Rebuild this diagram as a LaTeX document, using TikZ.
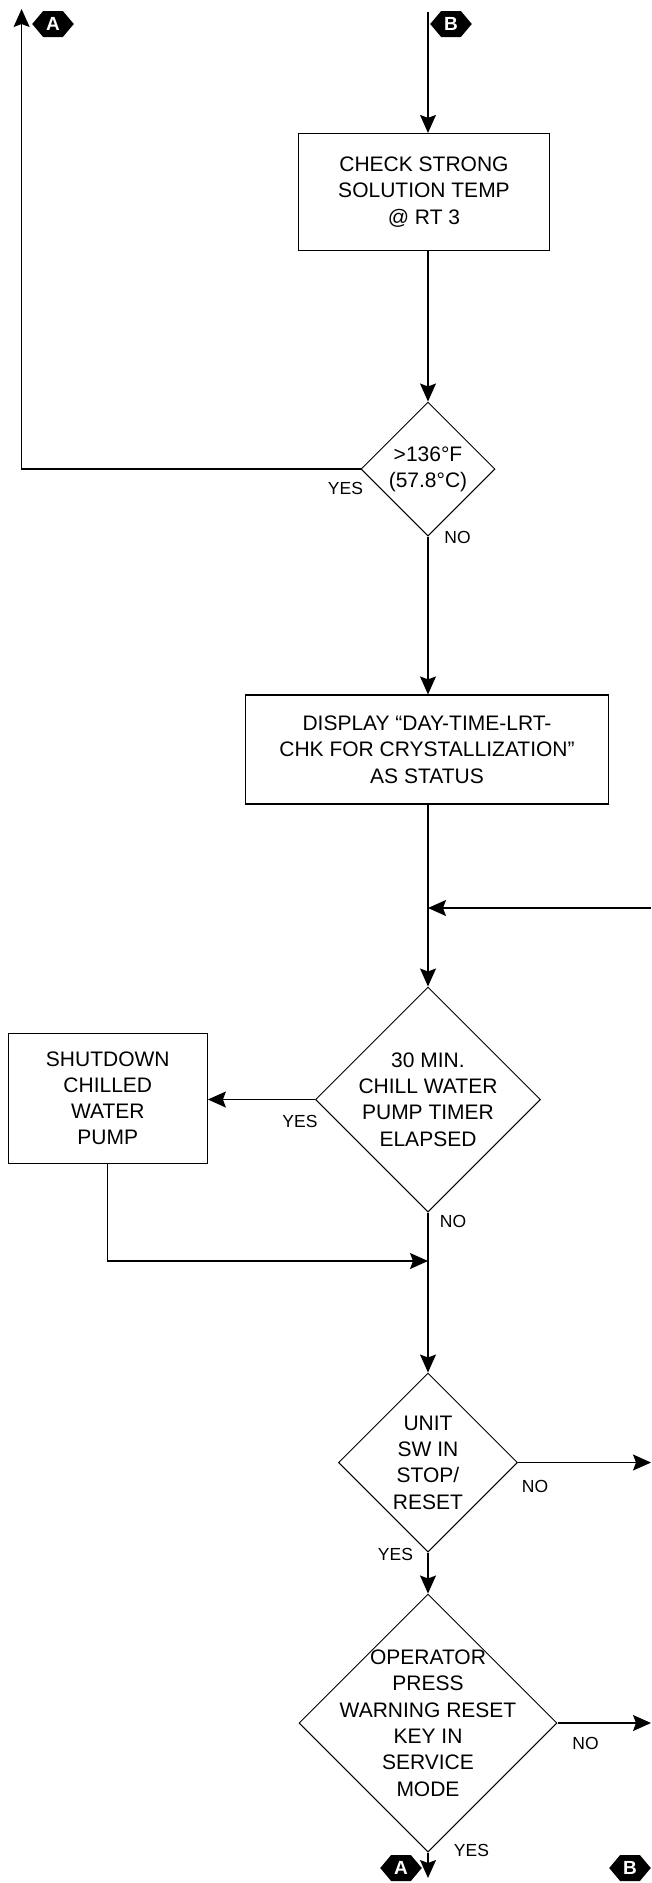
\documentclass[tikz,border=0pt]{standalone}
\usepackage{fontspec}
\setmainfont{Liberation Sans}
\usetikzlibrary{arrows.meta,shapes.geometric,shapes.symbols}

\newcommand{\boxfont}{\fontsize{21}{26.3}\selectfont}
\newcommand{\tagfont}{\fontsize{17.5}{21}\selectfont}

\begin{document}
\begin{tikzpicture}[
  x=1pt, y=-1pt,
  procbox/.style={draw, line width=1.2pt, align=center, font=\boxfont, inner sep=0pt},
  decision/.style={draw, diamond, aspect=1, line width=1pt, inner sep=-40pt, align=center, font=\boxfont},
  tag/.style={font=\tagfont, inner sep=0pt},
  hexlabel/.style={signal, signal to=west and east, signal pointer angle=100, fill=black, text=white, font=\fontsize{19}{19}\selectfont\bfseries, minimum width=34pt, minimum height=26pt, inner sep=3pt},
  arrow/.style={-{Stealth[length=18pt, width=16pt, inset=3pt]}, line width=1.3pt}
]
\useasboundingbox (0,0) rectangle (651,1883);

\node[procbox, minimum width=251pt, minimum height=117pt] (check) at (424, 192) {CHECK STRONG\\SOLUTION TEMP\\@ RT 3};
\node[decision, minimum size=134pt] (temp) at (428, 469) {>136°F\\(57.8°C)};
\node[procbox, minimum width=363pt, minimum height=109pt] (display) at (427, 749.5) {DISPLAY “DAY-TIME-LRT-\\CHK FOR CRYSTALLIZATION”\\AS STATUS};
\node[decision, minimum size=225pt] (timer) at (428, 1099.5) {30 MIN.\\CHILL WATER\\PUMP TIMER\\ELAPSED};
\node[procbox, minimum width=199pt, minimum height=130pt] (shutdown) at (107.8, 1098.3) {SHUTDOWN\\CHILLED\\WATER\\PUMP};
\node[decision, minimum size=179pt] (unitsw) at (428, 1462.5) {UNIT\\SW IN\\STOP/\\RESET};
\node[decision, minimum size=258pt] (warnkey) at (428, 1723) {OPERATOR\\PRESS\\WARNING RESET\\KEY IN\\SERVICE\\MODE};

% branch labels
\node[tag] (yes1) at (345.5, 488) {YES};
\node[tag] (no1) at (457.5, 537) {NO};
\node[tag] (yes2) at (300, 1121) {YES};
\node[tag] (no2) at (453, 1221) {NO};
\node[tag] (no3) at (535, 1486) {NO};
\node[tag] (yes3) at (395.5, 1554) {YES};
\node[tag] (no4) at (585.5, 1743) {NO};
\node[tag] (yes4) at (471.5, 1850) {YES};

% off-page connectors
\node[hexlabel] (hexA1) at (53, 24) {A};
\node[hexlabel] (hexB1) at (451, 24) {B};
\node[hexlabel] (hexA2) at (401, 1868) {A};
\node[hexlabel] (hexB2) at (630, 1868) {B};

\coordinate (topB) at (428, 12);
\coordinate (topA) at (21.6, 9);
\coordinate (inR) at (651, 908);
\coordinate (merge) at (428, 1261);
\coordinate (outR1) at (651, 1462.5);
\coordinate (outR2) at (651, 1723);
\coordinate (outA) at (428, 1878);

\draw[arrow] (topB) -- (topB |- check.north);
\draw[arrow] (temp.north |- check.south) -- (temp);
\draw[arrow] (temp.west) -| (topA);
\draw[arrow] (temp) -- (temp |- display.north);
\draw[arrow] (timer |- display.south) -- (timer);
\draw[arrow] (inR) -- (inR -| timer.north);
\draw[arrow] (timer.west) -- (timer.west -| shutdown.east);
\draw[arrow] (shutdown.south) |- (merge);
\draw[arrow] (timer) -- (unitsw);
\draw[arrow] (unitsw.east) -- (outR1);
\draw[arrow] (unitsw) -- (warnkey);
\draw[arrow] (warnkey.east) -- (outR2);
\draw[arrow] (warnkey) -- (outA);
\end{tikzpicture}
\end{document}
